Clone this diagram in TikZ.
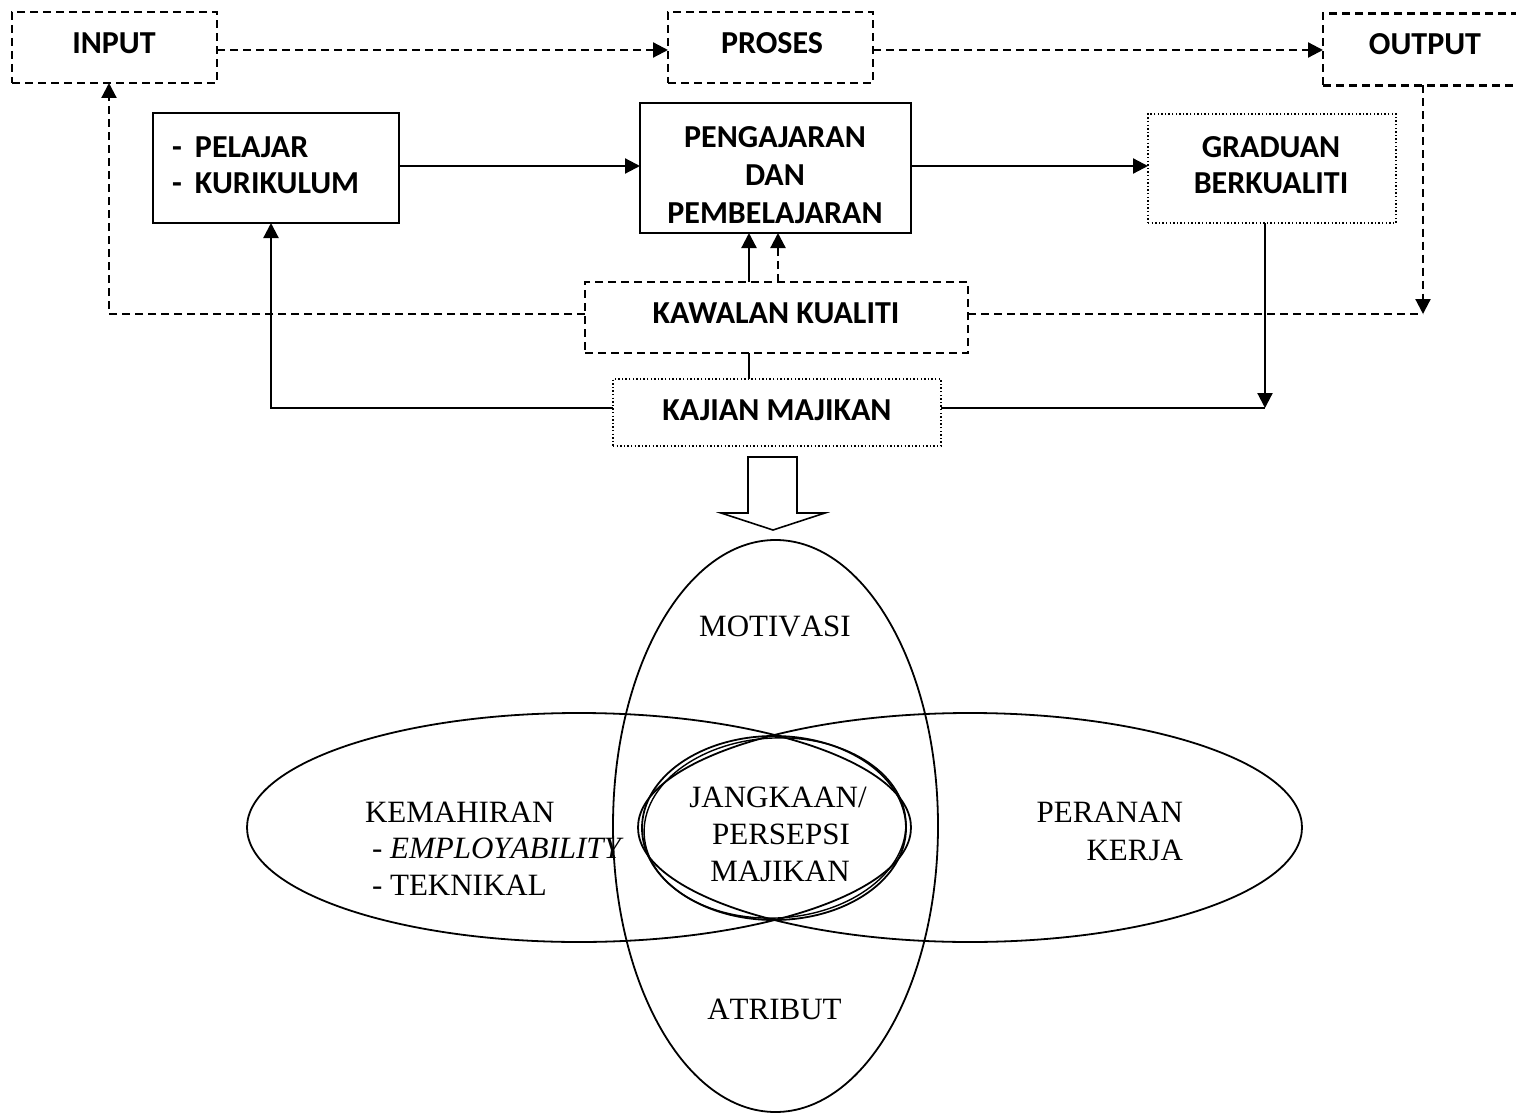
\documentclass[tikz,border=0pt]{standalone}
\usepackage{fontspec}
\setmainfont[Kerning=Off]{Liberation Serif}
\newfontfamily\calibri{Carlito}
\usetikzlibrary{arrows.meta}
\begin{document}
\begin{tikzpicture}[x=1pt,y=-1pt,
  every node/.style={inner sep=0pt, outer sep=0pt},
  box/.style={draw, line width=2.2pt, rectangle},
  dbox/.style={box, dash pattern=on 8pt off 5pt},
  obox/.style={draw, line width=1.6pt, dash pattern=on 1.4pt off 2.2pt},
  btxt/.style={font=\calibri\bfseries\fontsize{32}{38}\selectfont, align=center},
  stxt/.style={font=\fontsize{31}{37}\selectfont},
  conn/.style={line width=2.2pt},
  dconn/.style={conn, dash pattern=on 8pt off 5pt},
  arr/.style={-{Triangle[length=15pt,width=15pt]}},
  venn/.style={line width=1.8pt}
]
\useasboundingbox (0,0) rectangle (1516,1113);

% ---- top row boxes
\node[dbox, minimum width=205pt, minimum height=71pt] (input) at (114.5,47.5) {};
\node[btxt] (inputt) at (114,43) {INPUT};
\node[dbox, minimum width=205pt, minimum height=71pt] (proses) at (770.5,47.5) {};
\node[btxt] (prosest) at (772,43) {PROSES};
\node[dbox, minimum width=205pt, minimum height=72pt] (output) at (1425.5,49.5) {};
\node[btxt] (outputt) at (1425,44) {OUTPUT};

% ---- second row
\node[box, minimum width=246pt, minimum height=110pt] (pelajar) at (276,168) {};
\node[btxt, align=left, anchor=west, font=\calibri\bfseries\fontsize{32}{36}\selectfont] (pelajart) at (172,165.5)
  {\makebox[23pt][l]{-}PELAJAR\\\makebox[23pt][l]{-}KURIKULUM};
\node[box, minimum width=271pt, minimum height=130pt] (peng) at (775.5,168) {};
\node[btxt] (pengt) at (775,175.5) {PENGAJARAN\\DAN\\PEMBELAJARAN};
\node[obox, minimum width=248pt, minimum height=109pt] (grad) at (1272,168.5) {};
\node[btxt, font=\calibri\bfseries\fontsize{32}{36}\selectfont] (gradt) at (1271,165) {GRADUAN\\BERKUALITI};

% ---- quality control and employer study
\node[dbox, minimum width=383pt, minimum height=71pt] (kawal) at (776.5,317.5) {};
\node[btxt] (kawalt) at (776,313) {KAWALAN KUALITI};
\node[obox, minimum width=328pt, minimum height=67pt] (kajian) at (777,412.5) {};
\node[btxt] (kajiant) at (777,410) {KAJIAN MAJIKAN};

% ---- dashed top flow
\coordinate (i1) at ([yshift=-2.5pt]input.east);
\coordinate (p1) at (i1 -| proses.west);
\coordinate (p2) at (i1 -| proses.east);
\coordinate (o1) at (i1 -| output.west);
\draw[dconn, arr] (i1) -- (p1);
\draw[dconn, arr] (p2) -- (o1);

% ---- solid middle flow
\coordinate (m1) at ([yshift=2pt]pelajar.east);
\draw[conn, arr] (m1) -- (m1 -| peng.west);
\coordinate (m2) at ([yshift=2pt]peng.east);
\draw[conn, arr] (m2) -- (m2 -| grad.west);

% ---- kawalan feedback (dashed)
\coordinate (kw) at ([yshift=3.5pt]kawal.west);
\coordinate (ke) at ([yshift=3.5pt]kawal.east);
\draw[dconn, arr] (kw) -| ([xshift=-5.5pt]input.south);
\coordinate (ot) at ([xshift=-2.5pt]output.south);
\coordinate (oe) at (ot |- ke);
\draw[dconn] (ke) -- (oe);
\draw[dconn, arr] (ot) -- (oe);

% ---- kawalan to pengajaran
\coordinate (k1) at ([xshift=-27.5pt]kawal.north);
\draw[conn, arr] (k1) -- (k1 |- peng.south);
\coordinate (k2) at ([xshift=1.5pt]kawal.north);
\draw[dconn, arr] (k2) -- (k2 |- peng.south);
\coordinate (k3) at ([xshift=-27.5pt]kawal.south);
\draw[conn] (k3) -- (k3 |- kajian.north);

% ---- kajian feedback (solid)
\coordinate (jw) at ([yshift=4.5pt]kajian.west);
\coordinate (je) at ([yshift=4.5pt]kajian.east);
\draw[conn, arr] (jw) -| ([xshift=-5pt]pelajar.south);
\coordinate (g1) at ([xshift=-7pt]grad.south);
\coordinate (g2) at (g1 |- je);
\draw[conn] (je) -- (g2);
\draw[conn, arr] (g1) -- (g2);

% ---- block arrow
\draw[line width=1.6pt, line join=miter] (748,457) -- (797,457) -- (797,513) -- (825,513)
  -- (773,530) -- (721,513) -- (748,513) -- cycle;

% ---- Venn ellipses
\draw[venn] (775.5,826) ellipse [x radius=162.5, y radius=286];
\draw[venn] (579,827.5) ellipse [x radius=332, y radius=114.5];
\draw[venn] (970,827.5) ellipse [x radius=332, y radius=114.5];
\draw[venn] (774,828) ellipse [x radius=132, y radius=92];
\draw[line width=1.4pt, rotate around={3:(775,828)}] (775,828) ellipse [x radius=131, y radius=90];

% ---- Venn texts
\node[stxt] (motiv) at (775,626) {MOTIVASI};
\node[stxt] (atrib) at (774.5,1009) {ATRIBUT};
\node[stxt, anchor=base west] (kem1) at (365,822) {KEMAHIRAN};
\node[stxt, anchor=base west] (kem2) at (372,858) {- \textit{EMPLOYABILITY}};
\node[stxt, anchor=base west] (kem3) at (372,895) {- TEKNIKAL};
\node[stxt, anchor=base east] (per1) at (1183,822) {PERANAN};
\node[stxt, anchor=base east] (per2) at (1183,860) {KERJA};
\node[stxt, anchor=base] (jan1) at (778,807) {JANGKAAN/};
\node[stxt, anchor=base] (jan2) at (781,844) {PERSEPSI};
\node[stxt, anchor=base] (jan3) at (780,881) {MAJIKAN};
\end{tikzpicture}
\end{document}
